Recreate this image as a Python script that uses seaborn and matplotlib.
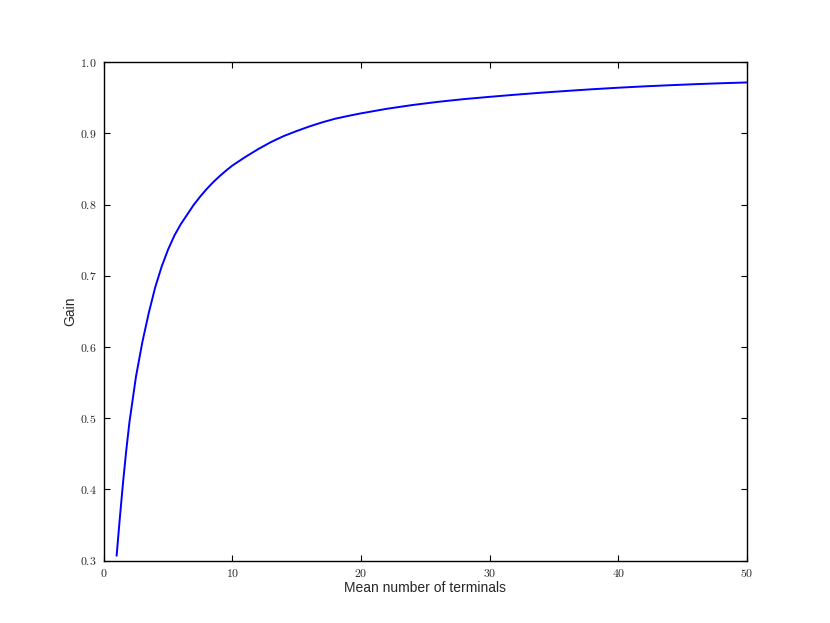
import matplotlib
matplotlib.use('Agg')
import matplotlib.pyplot as plt
import seaborn as sns
from matplotlib.ticker import FuncFormatter

terminals = [1, 1.25, 1.5, 1.75, 2, 2.5, 3, 3.5, 4, 4.5, 5, 5.5, 6, 6.5, 7,
             7.5, 8, 8.5, 9, 9.5, 10, 11, 12, 13, 14, 15, 16, 17, 18, 19, 20,
             22, 24, 26, 28, 30, 32, 34, 36, 38, 40, 42, 44, 46, 48, 50]
gain = [0.307, 0.360, 0.410, 0.455, 0.495, 0.558, 0.607, 0.648, 0.684, 0.713,
        0.737, 0.757, 0.773, 0.7865, 0.800, 0.8115, 0.822, 0.8315, 0.840,
        0.8478, 0.855, 0.867, 0.878, 0.888, 0.8965, 0.9035, 0.9100, 0.9158,
        0.9208, 0.9247, 0.9283, 0.9347, 0.9400, 0.9445, 0.9483, 0.9515,
        0.9545, 0.9573, 0.9598, 0.9622, 0.9643, 0.9662, 0.9678, 0.9693,
        0.9706, 0.9717]

x_ticks = [0, 10, 20, 30, 40, 50]
y_ticks = [0.3, 0.4, 0.5, 0.6, 0.7, 0.8, 0.9, 1.0]

sns.set_style('ticks')
plt.rcParams['font.family'] = ['Liberation Sans', 'DejaVu Sans']
plt.rcParams['mathtext.fontset'] = 'cm'

fig = plt.figure(figsize=(8.3, 6.23), dpi=100)
ax = fig.add_axes([0.125, 0.1, 0.775, 0.8])

sns.lineplot(x=terminals, y=gain, ax=ax, color='#0000ff', linewidth=1.4)

ax.set_xlim(0, 50)
ax.set_ylim(0.3, 1.0)
ax.set_xticks(x_ticks)
ax.set_yticks(y_ticks)
ax.xaxis.set_major_formatter(FuncFormatter(lambda v, p: r'$%d$' % v))
ax.yaxis.set_major_formatter(FuncFormatter(lambda v, p: r'$%.1f$' % v))
ax.tick_params(direction='in', top=True, right=True, length=4, width=0.8,
               labelsize=8.5, pad=5, color='black')

for side in ax.spines.values():
    side.set_visible(True)
    side.set_color('black')
    side.set_linewidth(1.0)

ax.set_xlabel('Mean number of terminals', fontsize=10, labelpad=1)
ax.set_ylabel('Gain', fontsize=10, labelpad=2)

plt.savefig('out.png', dpi=100)
